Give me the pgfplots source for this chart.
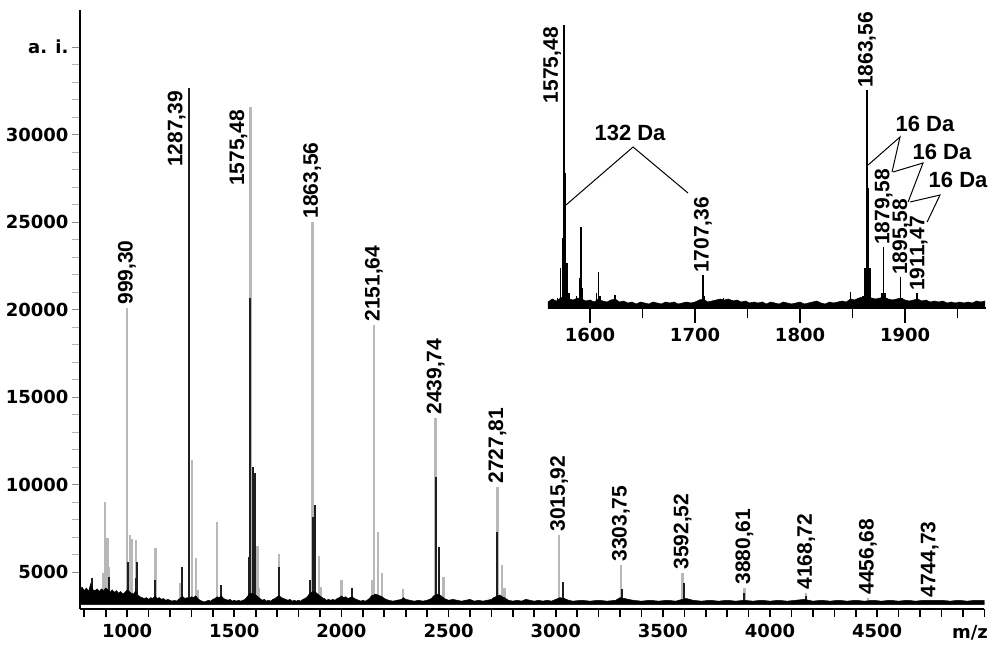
\documentclass[border=0pt]{standalone}
\usepackage{fontspec}
\setmainfont{Liberation Sans}
\newfontfamily\dvs{DejaVu Sans}
\usepackage{pgfplots}
\pgfplotsset{compat=1.18}
\newcommand{\pk}{\bfseries\fontsize{21}{21}\selectfont}
\newcommand{\tk}{\dvs\bfseries\fontsize{18}{18}\selectfont}
\begin{document}
\begin{tikzpicture}[x=1pt,y=1pt]
\path[use as bounding box] (0,0) rectangle (1000,651);
% ---------------- main spectrum ----------------
\begin{axis}[
  at={(80pt,42pt)}, anchor=south west, scale only axis,
  width=904.3pt, height=598.5pt,
  xmin=780, xmax=5000, ymin=2900, ymax=37100,
  axis x line*=bottom, axis y line*=left,
  axis line style={line width=2pt, black},
  xtick={1000,1500,...,4500}, minor xtick={800,900,...,5000},
  xticklabels={1000,1500,2000,2500,3000,3500,4000,4500},
  ytick={5000,10000,...,35000},
  yticklabels={5000,10000,15000,20000,25000,30000,a. i.},
  scaled x ticks=false, scaled y ticks=false,
  minor y tick num=4,
  tick align=outside,
  major tick length=8pt, minor tick length=8pt,
  xtick style={line width=1.6pt, black},
  minor x tick style={line width=1.6pt, black},
  ytick style={line width=1pt, black!45},
  minor y tick style={line width=0.6pt, black!30},
  xticklabel style={font=\tk, yshift=-4pt},
  yticklabel style={font=\tk},
  /pgf/number format/assume math mode=true,
  clip=true,
]
% gray spectrum
\addplot[quiver={u=0,v=\thisrow{I}-3200}, draw=black!28, line width=2.6pt]
 table[x=x, y expr=3200] {
x I
888 4971
897 9029
907 6971
916 5314
999.3 20114
1014 7143
1019 6900
1042 6857
1131 6400
1250 4400
1303 11429
1322 5829
1330 4000
1420 7886
1575.5 31600
1607 6514
1615 4114
1709 6057
1863.6 25029
1896 5943
1905 4171
1999 4571
2146 4571
2151.6 19143
2171 7314
2190 4971
2288 4057
2439.7 13829
2475 4743
2727.8 9886
2750 5429
2760 4100
3015.9 7143
3303.8 5429
3592.5 4971
3880.6 4114
4168.7 3829
4456.7 3543
4744.7 3380
};
% dark spectrum
\addplot[quiver={u=0,v=\thisrow{I}-3200}, draw=black!88, line width=2pt]
 table[x=x, y expr=3200] {
x I
837 4686
916 4743
1005 5600
1040 4686
1046 5600
1131 4571
1257 5314
1287.4 32686
1439 4286
1570 5886
1575.5 20686
1588 11029
1597 10686
1709 5314
1855 4571
1868 8171
1877 8857
2049 4114
2439.7 10457
2456 6457
2727.8 7314
3035 4457
3311 4057
3600 4400
3880.6 3800
4168.7 3650
};
% baseline noise
\addplot[fill=black, draw=black, line width=0.5pt] coordinates {
(780,3150) (780,4000) (790,4150) (800,3950) (810,4100) (820,3900) (830,4350)
(840,4000) (850,3950) (860,4050) (870,3900) (880,4050) (890,3950) (900,4100)
(910,4000) (920,3850) (930,4000) (940,3850) (950,3950) (960,3800) (970,3900)
(980,3750) (990,3850) (1000,4000) (1010,3900) (1020,3800) (1030,3750) (1040,3950)
(1050,3700) (1060,3600) (1070,3550) (1080,3500) (1090,3550) (1100,3450)
(1110,3550) (1120,3500) (1130,3650) (1140,3500) (1150,3550) (1160,3450) (1170,3500)
(1180,3400) (1190,3450) (1200,3400) (1210,3350) (1220,3400) (1230,3350) (1240,3450)
(1250,3550) (1260,3600) (1270,3500) (1280,3550) (1290,3500) (1300,3600) (1310,3550)
(1320,3650) (1330,3500) (1340,3400) (1350,3350) (1360,3300) (1370,3350) (1380,3400)
(1390,3350) (1400,3450) (1410,3500) (1420,3600) (1430,3550) (1440,3650) (1450,3500)
(1460,3450) (1470,3400) (1480,3450) (1490,3350) (1500,3400) (1510,3350) (1520,3400)
(1530,3350) (1540,3400) (1550,3450) (1560,3600) (1570,3750) (1580,3800) (1590,3750)
(1600,3700) (1610,3600) (1620,3500) (1630,3400) (1640,3450) (1650,3350) (1660,3400)
(1670,3350) (1680,3450) (1690,3500) (1700,3600) (1710,3650) (1720,3550) (1730,3500)
(1740,3450) (1750,3400) (1760,3450) (1770,3350) (1780,3400) (1790,3350) (1800,3400)
(1810,3350) (1820,3450) (1830,3500) (1840,3600) (1850,3750) (1860,3850) (1870,3900)
(1880,3850) (1890,3750) (1900,3650) (1910,3550) (1920,3500) (1930,3400) (1940,3450)
(1950,3400) (1960,3450) (1970,3400) (1980,3500) (1990,3550) (2000,3650) (2010,3550)
(2020,3600) (2030,3500) (2040,3550) (2050,3600) (2060,3500) (2070,3450) (2080,3400)
(2090,3350) (2100,3400) (2110,3350) (2120,3400) (2130,3500) (2140,3650) (2150,3700)
(2160,3750) (2170,3700) (2180,3650) (2190,3600) (2200,3500) (2210,3450) (2220,3400)
(2240,3350) (2260,3400) (2280,3450) (2290,3550) (2300,3450) (2320,3400) (2340,3350)
(2360,3400) (2380,3350) (2400,3400) (2420,3500) (2430,3650) (2440,3700) (2450,3750)
(2460,3700) (2470,3600) (2480,3500) (2500,3400) (2520,3450) (2540,3400) (2560,3350)
(2580,3400) (2600,3450) (2620,3350) (2640,3400) (2660,3350) (2680,3400) (2700,3450)
(2710,3550) (2720,3600) (2730,3650) (2740,3700) (2750,3600) (2760,3550) (2780,3400)
(2800,3350) (2820,3400) (2840,3350) (2860,3450) (2880,3400) (2900,3350) (2920,3400)
(2940,3350) (2960,3400) (2980,3350) (3000,3450) (3010,3500) (3020,3550) (3040,3500)
(3060,3400) (3080,3350) (3120,3400) (3160,3350) (3200,3400) (3240,3350) (3280,3400)
(3300,3550) (3320,3500) (3360,3400) (3400,3350) (3440,3400) (3480,3350) (3520,3400)
(3560,3350) (3590,3450) (3610,3500) (3640,3400) (3680,3350) (3720,3400) (3760,3350)
(3800,3400) (3840,3350) (3880,3400) (3920,3350) (3960,3400) (4000,3350) (4040,3400)
(4080,3350) (4120,3400) (4160,3450) (4200,3350) (4240,3400) (4280,3350) (4320,3400)
(4360,3350) (4400,3400) (4440,3350) (4480,3400) (4520,3350) (4560,3400) (4600,3350)
(4640,3400) (4680,3350) (4720,3400) (4760,3400) (4800,3400) (4840,3350) (4880,3400)
(4920,3350) (4960,3400) (5000,3400) (5000,3150)
} --cycle;
% peak labels
\begin{scope}[every node/.style={rotate=90, font=\pk, inner sep=3pt}]
\node[anchor=west] at (axis cs:999.3,20114) {999,30};
\node[anchor=south east] at (axis cs:1287.4,32686) {1287,39};
\node[anchor=south east] at (axis cs:1575.5,31600) {1575,48};
\node[anchor=west] at (axis cs:1863.6,25029) {1863,56};
\node[anchor=west] at (axis cs:2151.6,19143) {2151,64};
\node[anchor=west] at (axis cs:2439.7,13829) {2439,74};
\node[anchor=west] at (axis cs:2727.8,9886) {2727,81};
\node[anchor=west] at (axis cs:3015.9,7143) {3015,92};
\node[anchor=west] at (axis cs:3303.8,5429) {3303,75};
\node[anchor=west] at (axis cs:3592.5,4971) {3592,52};
\node[anchor=west] at (axis cs:3880.6,4114) {3880,61};
\node[anchor=west] at (axis cs:4168.7,3829) {4168,72};
\node[anchor=west] at (axis cs:4456.7,3543) {4456,68};
\node[anchor=west] at (axis cs:4744.7,3380) {4744,73};
\end{scope}
\end{axis}
\node[anchor=north east, font=\tk, inner sep=0pt] at (988,26) {m/z};
% ---------------- inset ----------------
\begin{axis}[
  at={(548pt,343pt)}, anchor=south west, scale only axis,
  width=437.9pt, height=298pt,
  xmin=1560, xmax=1977, ymin=0, ymax=298,
  axis x line*=bottom, axis y line=none,
  axis line style={line width=2pt, black},
  xtick={1600,1700,1800,1900}, minor xtick={1650,1750,1850,1950},
  xticklabels={1600,1700,1800,1900},
  scaled x ticks=false,
  tick align=outside,
  major tick length=15pt, minor tick length=10pt,
  xtick style={line width=1.6pt, black},
  minor x tick style={line width=1.6pt, black},
  xticklabel style={font=\tk, yshift=-2pt},
  /pgf/number format/assume math mode=true,
  clip=false,
]
\addplot[quiver={u=0,v=\thisrow{I}-2}, draw=black, line width=1.6pt]
 table[x=x, y expr=2] {
x I
1569 10
1572 40
1574 70
1575.5 283
1576.5 135
1578 45
1580 15
1587 12
1590 30
1591.5 81
1593 20
1606 15
1608 36
1609.5 12
1624 13
1707.5 33
1709 12
1727 10
1735 8
1848 16
1860 12
1862 40
1863.6 218
1865 120
1866.5 40
1878 15
1879.6 61
1881 15
1895.6 31
1897 10
1911.5 15
};
\addplot[fill=black, draw=black, line width=0.5pt] coordinates {
(1560,0) (1560,6) (1564,9) (1568,7) (1572,10) (1576,12) (1580,9) (1584,8) (1588,10)
(1592,9) (1596,7) (1600,8) (1604,6) (1608,9) (1612,7) (1616,6) (1620,8) (1624,9)
(1628,6) (1632,7) (1636,5) (1640,6) (1644,4) (1648,6) (1652,5) (1656,4) (1660,6)
(1664,5) (1668,4) (1672,6) (1676,5) (1680,6) (1684,4) (1688,5) (1692,6) (1696,5)
(1700,6) (1704,8) (1708,9) (1712,6) (1716,7) (1720,8) (1724,9) (1728,8) (1732,9)
(1736,7) (1740,8) (1744,6) (1748,7) (1752,5) (1756,6) (1760,5) (1764,6) (1768,4)
(1772,6) (1776,5) (1780,4) (1784,6) (1788,5) (1792,4) (1796,5) (1800,6) (1804,4)
(1808,5) (1812,6) (1816,7) (1820,5) (1824,4) (1828,6) (1832,5) (1836,6) (1840,7)
(1844,6) (1848,9) (1852,8) (1856,10) (1860,11) (1864,12) (1868,10) (1872,9)
(1876,10) (1880,11) (1884,9) (1888,8) (1892,9) (1896,10) (1900,8) (1904,7)
(1908,8) (1912,9) (1916,7) (1920,8) (1924,6) (1928,7) (1932,6) (1936,7) (1940,5)
(1944,6) (1948,5) (1952,6) (1956,5) (1960,6) (1964,5) (1968,7) (1972,6) (1976,7)
(1976,0)
} --cycle;
\begin{scope}[every node/.style={rotate=90, font=\pk, inner sep=2pt}]
\node[anchor=south east] at (axis cs:1574.5,283) {1575,48};
\node[anchor=west] at (axis cs:1863.6,218) {1863,56};
\node[anchor=west] at (axis cs:1707.5,33) {1707,36};
\node[anchor=west] at (axis cs:1879.6,61) {1879,58};
\node[anchor=west] at (axis cs:1896.5,31) {1895,58};
\node[anchor=west] at (axis cs:1913,15) {1911,47};
\end{scope}
\begin{scope}[every node/.style={font=\bfseries\fontsize{22}{22}\selectfont, inner sep=0pt}]
\node at (axis cs:1638.1,175) {132 Da};
\node at (axis cs:1919,184) {16 Da};
\node at (axis cs:1935.2,156) {16 Da};
\node at (axis cs:1950.5,128) {16 Da};
\end{scope}
\draw[line width=1pt] (axis cs:1577.1,103) -- (axis cs:1641,161) -- (axis cs:1693.3,115);
\draw[line width=1pt] (axis cs:1864.8,143) -- (axis cs:1895.2,171) -- (axis cs:1887.6,136);
\draw[line width=1pt] (axis cs:1888.6,136) -- (axis cs:1917.1,145) -- (axis cs:1902.9,106);
\draw[line width=1pt] (axis cs:1904.8,106) -- (axis cs:1933.3,113) -- (axis cs:1921,86);
\end{axis}
\end{tikzpicture}
\end{document}
